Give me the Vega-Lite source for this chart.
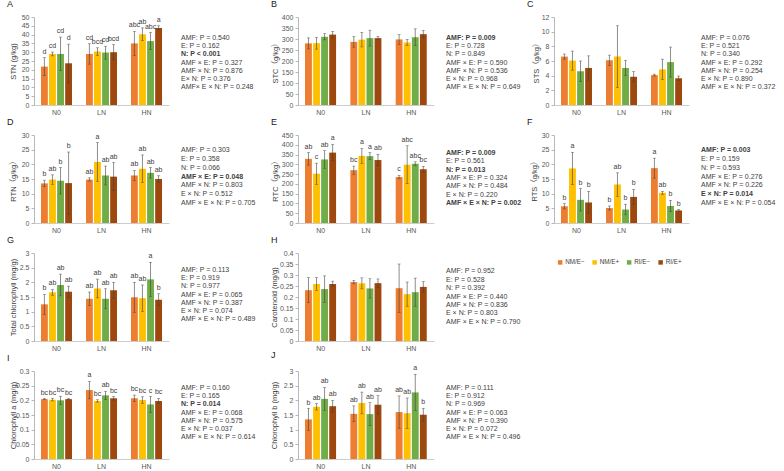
{
  "$schema": "https://vega.github.io/schema/vega-lite/v6.json",
  "padding": {"left": 7, "top": 0, "right": 0, "bottom": 0},
  "columns": 6,
  "align": "each",
  "bounds": "flush",
  "spacing": {"column": 12, "row": 30},
  "datasets": {
    "bars": [
      {"panel": "A", "N": "N0", "treatment": "NM/E−", "mean": 21.8, "lo": 16.8, "hi": 26.9, "sig": "d"},
      {"panel": "A", "N": "N0", "treatment": "NM/E+", "mean": 29.0, "lo": 27.9, "hi": 30.1, "sig": "cd"},
      {"panel": "A", "N": "N0", "treatment": "RI/E−", "mean": 29.0, "lo": 19.5, "hi": 38.6, "sig": "cd"},
      {"panel": "A", "N": "N0", "treatment": "RI/E+", "mean": 23.7, "lo": 12.6, "hi": 34.6, "sig": "d"},
      {"panel": "A", "N": "LN", "treatment": "NM/E−", "mean": 29.0, "lo": 23.2, "hi": 34.8, "sig": "cd"},
      {"panel": "A", "N": "LN", "treatment": "NM/E+", "mean": 30.4, "lo": 28.2, "hi": 32.5, "sig": "bcd"},
      {"panel": "A", "N": "LN", "treatment": "RI/E−", "mean": 29.8, "lo": 26.1, "hi": 33.4, "sig": "cd"},
      {"panel": "A", "N": "LN", "treatment": "RI/E+", "mean": 30.0, "lo": 25.7, "hi": 34.3, "sig": "bcd"},
      {"panel": "A", "N": "HN", "treatment": "NM/E−", "mean": 35.0, "lo": 28.2, "hi": 41.8, "sig": "abc"},
      {"panel": "A", "N": "HN", "treatment": "NM/E+", "mean": 40.2, "lo": 36.6, "hi": 43.8, "sig": "ab"},
      {"panel": "A", "N": "HN", "treatment": "RI/E−", "mean": 36.3, "lo": 31.5, "hi": 41.1, "sig": "abc"},
      {"panel": "A", "N": "HN", "treatment": "RI/E+", "mean": 43.8, "lo": 42.6, "hi": 45.0, "sig": "a"},

      {"panel": "B", "N": "N0", "treatment": "NM/E−", "mean": 280, "lo": 255, "hi": 305, "sig": ""},
      {"panel": "B", "N": "N0", "treatment": "NM/E+", "mean": 281, "lo": 254, "hi": 308, "sig": ""},
      {"panel": "B", "N": "N0", "treatment": "RI/E−", "mean": 310, "lo": 296, "hi": 324, "sig": ""},
      {"panel": "B", "N": "N0", "treatment": "RI/E+", "mean": 320, "lo": 305, "hi": 335, "sig": ""},
      {"panel": "B", "N": "LN", "treatment": "NM/E−", "mean": 287, "lo": 263, "hi": 311, "sig": ""},
      {"panel": "B", "N": "LN", "treatment": "NM/E+", "mean": 297, "lo": 264, "hi": 330, "sig": ""},
      {"panel": "B", "N": "LN", "treatment": "RI/E−", "mean": 304, "lo": 268, "hi": 340, "sig": ""},
      {"panel": "B", "N": "LN", "treatment": "RI/E+", "mean": 304, "lo": 296, "hi": 312, "sig": ""},
      {"panel": "B", "N": "HN", "treatment": "NM/E−", "mean": 298, "lo": 276, "hi": 320, "sig": ""},
      {"panel": "B", "N": "HN", "treatment": "NM/E+", "mean": 284, "lo": 270, "hi": 298, "sig": ""},
      {"panel": "B", "N": "HN", "treatment": "RI/E−", "mean": 308, "lo": 270, "hi": 346, "sig": ""},
      {"panel": "B", "N": "HN", "treatment": "RI/E+", "mean": 322, "lo": 305, "hi": 339, "sig": ""},

      {"panel": "C", "N": "N0", "treatment": "NM/E−", "mean": 6.6, "lo": 6.25, "hi": 6.95, "sig": ""},
      {"panel": "C", "N": "N0", "treatment": "NM/E+", "mean": 6.05, "lo": 4.75, "hi": 7.35, "sig": ""},
      {"panel": "C", "N": "N0", "treatment": "RI/E−", "mean": 4.6, "lo": 3.2, "hi": 6.0, "sig": ""},
      {"panel": "C", "N": "N0", "treatment": "RI/E+", "mean": 5.05, "lo": 3.4, "hi": 6.7, "sig": ""},
      {"panel": "C", "N": "LN", "treatment": "NM/E−", "mean": 6.1, "lo": 5.4, "hi": 6.8, "sig": ""},
      {"panel": "C", "N": "LN", "treatment": "NM/E+", "mean": 6.6, "lo": 2.4, "hi": 10.8, "sig": ""},
      {"panel": "C", "N": "LN", "treatment": "RI/E−", "mean": 5.05, "lo": 4.0, "hi": 6.1, "sig": ""},
      {"panel": "C", "N": "LN", "treatment": "RI/E+", "mean": 3.85, "lo": 3.15, "hi": 4.55, "sig": ""},
      {"panel": "C", "N": "HN", "treatment": "NM/E−", "mean": 4.07, "lo": 3.95, "hi": 4.2, "sig": ""},
      {"panel": "C", "N": "HN", "treatment": "NM/E+", "mean": 4.85, "lo": 3.45, "hi": 6.25, "sig": ""},
      {"panel": "C", "N": "HN", "treatment": "RI/E−", "mean": 5.85, "lo": 3.8, "hi": 7.9, "sig": ""},
      {"panel": "C", "N": "HN", "treatment": "RI/E+", "mean": 3.65, "lo": 3.35, "hi": 3.95, "sig": ""},

      {"panel": "D", "N": "N0", "treatment": "NM/E−", "mean": 13.5, "lo": 12.4, "hi": 14.6, "sig": "b"},
      {"panel": "D", "N": "N0", "treatment": "NM/E+", "mean": 14.8, "lo": 13.2, "hi": 16.4, "sig": "ab"},
      {"panel": "D", "N": "N0", "treatment": "RI/E−", "mean": 14.4, "lo": 9.9, "hi": 18.9, "sig": "b"},
      {"panel": "D", "N": "N0", "treatment": "RI/E+", "mean": 13.6, "lo": 3.0, "hi": 24.2, "sig": "b"},
      {"panel": "D", "N": "LN", "treatment": "NM/E−", "mean": 14.8, "lo": 14.3, "hi": 15.4, "sig": "ab"},
      {"panel": "D", "N": "LN", "treatment": "NM/E+", "mean": 20.8, "lo": 14.2, "hi": 27.4, "sig": "a"},
      {"panel": "D", "N": "LN", "treatment": "RI/E−", "mean": 16.2, "lo": 13.0, "hi": 19.4, "sig": "ab"},
      {"panel": "D", "N": "LN", "treatment": "RI/E+", "mean": 15.8, "lo": 11.0, "hi": 20.6, "sig": "ab"},
      {"panel": "D", "N": "HN", "treatment": "NM/E−", "mean": 16.2, "lo": 14.5, "hi": 17.9, "sig": "ab"},
      {"panel": "D", "N": "HN", "treatment": "NM/E+", "mean": 18.5, "lo": 13.8, "hi": 23.2, "sig": "ab"},
      {"panel": "D", "N": "HN", "treatment": "RI/E−", "mean": 17.1, "lo": 15.3, "hi": 18.9, "sig": "ab"},
      {"panel": "D", "N": "HN", "treatment": "RI/E+", "mean": 15.0, "lo": 13.9, "hi": 16.1, "sig": "ab"},

      {"panel": "E", "N": "N0", "treatment": "NM/E−", "mean": 328, "lo": 296, "hi": 360, "sig": "ab"},
      {"panel": "E", "N": "N0", "treatment": "NM/E+", "mean": 252, "lo": 198, "hi": 306, "sig": "c"},
      {"panel": "E", "N": "N0", "treatment": "RI/E−", "mean": 325, "lo": 280, "hi": 370, "sig": "ab"},
      {"panel": "E", "N": "N0", "treatment": "RI/E+", "mean": 360, "lo": 318, "hi": 402, "sig": "a"},
      {"panel": "E", "N": "LN", "treatment": "NM/E−", "mean": 270, "lo": 249, "hi": 291, "sig": "bc"},
      {"panel": "E", "N": "LN", "treatment": "NM/E+", "mean": 343, "lo": 305, "hi": 381, "sig": "a"},
      {"panel": "E", "N": "LN", "treatment": "RI/E−", "mean": 342, "lo": 324, "hi": 360, "sig": "a"},
      {"panel": "E", "N": "LN", "treatment": "RI/E+", "mean": 322, "lo": 293, "hi": 351, "sig": "ab"},
      {"panel": "E", "N": "HN", "treatment": "NM/E−", "mean": 235, "lo": 226, "hi": 244, "sig": "c"},
      {"panel": "E", "N": "HN", "treatment": "NM/E+", "mean": 298, "lo": 201, "hi": 395, "sig": "abc"},
      {"panel": "E", "N": "HN", "treatment": "RI/E−", "mean": 303, "lo": 293, "hi": 313, "sig": "abc"},
      {"panel": "E", "N": "HN", "treatment": "RI/E+", "mean": 275, "lo": 260, "hi": 290, "sig": "bc"},

      {"panel": "F", "N": "N0", "treatment": "NM/E−", "mean": 5.7, "lo": 4.8, "hi": 6.6, "sig": "b"},
      {"panel": "F", "N": "N0", "treatment": "NM/E+", "mean": 18.6, "lo": 13.1, "hi": 24.1, "sig": "a"},
      {"panel": "F", "N": "N0", "treatment": "RI/E−", "mean": 7.9, "lo": 4.1, "hi": 11.7, "sig": "b"},
      {"panel": "F", "N": "N0", "treatment": "RI/E+", "mean": 7.0, "lo": 3.2, "hi": 10.8, "sig": "b"},
      {"panel": "F", "N": "LN", "treatment": "NM/E−", "mean": 5.1, "lo": 4.4, "hi": 5.8, "sig": "b"},
      {"panel": "F", "N": "LN", "treatment": "NM/E+", "mean": 13.1, "lo": 9.1, "hi": 17.1, "sig": "ab"},
      {"panel": "F", "N": "LN", "treatment": "RI/E−", "mean": 4.6, "lo": 2.8, "hi": 6.4, "sig": "b"},
      {"panel": "F", "N": "LN", "treatment": "RI/E+", "mean": 8.9, "lo": 6.3, "hi": 11.5, "sig": "b"},
      {"panel": "F", "N": "HN", "treatment": "NM/E−", "mean": 18.7, "lo": 15.3, "hi": 22.1, "sig": "a"},
      {"panel": "F", "N": "HN", "treatment": "NM/E+", "mean": 10.3, "lo": 9.8, "hi": 10.8, "sig": "ab"},
      {"panel": "F", "N": "HN", "treatment": "RI/E−", "mean": 5.8, "lo": 3.9, "hi": 7.7, "sig": "b"},
      {"panel": "F", "N": "HN", "treatment": "RI/E+", "mean": 4.3, "lo": 4.0, "hi": 4.6, "sig": "b"},

      {"panel": "G", "N": "N0", "treatment": "NM/E−", "mean": 1.25, "lo": 0.91, "hi": 1.59, "sig": "b"},
      {"panel": "G", "N": "N0", "treatment": "NM/E+", "mean": 1.66, "lo": 1.56, "hi": 1.76, "sig": "ab"},
      {"panel": "G", "N": "N0", "treatment": "RI/E−", "mean": 1.91, "lo": 1.54, "hi": 2.28, "sig": "ab"},
      {"panel": "G", "N": "N0", "treatment": "RI/E+", "mean": 1.68, "lo": 1.48, "hi": 1.87, "sig": "ab"},
      {"panel": "G", "N": "LN", "treatment": "NM/E−", "mean": 1.44, "lo": 1.21, "hi": 1.67, "sig": "ab"},
      {"panel": "G", "N": "LN", "treatment": "NM/E+", "mean": 1.79, "lo": 1.47, "hi": 2.11, "sig": "ab"},
      {"panel": "G", "N": "LN", "treatment": "RI/E−", "mean": 1.44, "lo": 1.1, "hi": 1.78, "sig": "ab"},
      {"panel": "G", "N": "LN", "treatment": "RI/E+", "mean": 1.73, "lo": 1.46, "hi": 2.0, "sig": "ab"},
      {"panel": "G", "N": "HN", "treatment": "NM/E−", "mean": 1.49, "lo": 0.98, "hi": 2.0, "sig": "ab"},
      {"panel": "G", "N": "HN", "treatment": "NM/E+", "mean": 1.46, "lo": 1.01, "hi": 1.91, "sig": "ab"},
      {"panel": "G", "N": "HN", "treatment": "RI/E−", "mean": 2.1, "lo": 1.52, "hi": 2.68, "sig": "a"},
      {"panel": "G", "N": "HN", "treatment": "RI/E+", "mean": 1.41, "lo": 1.21, "hi": 1.61, "sig": "b"},

      {"panel": "H", "N": "N0", "treatment": "NM/E−", "mean": 0.231, "lo": 0.174, "hi": 0.288, "sig": ""},
      {"panel": "H", "N": "N0", "treatment": "NM/E+", "mean": 0.259, "lo": 0.23, "hi": 0.288, "sig": ""},
      {"panel": "H", "N": "N0", "treatment": "RI/E−", "mean": 0.236, "lo": 0.176, "hi": 0.296, "sig": ""},
      {"panel": "H", "N": "N0", "treatment": "RI/E+", "mean": 0.259, "lo": 0.246, "hi": 0.272, "sig": ""},
      {"panel": "H", "N": "LN", "treatment": "NM/E−", "mean": 0.268, "lo": 0.26, "hi": 0.276, "sig": ""},
      {"panel": "H", "N": "LN", "treatment": "NM/E+", "mean": 0.262, "lo": 0.237, "hi": 0.287, "sig": ""},
      {"panel": "H", "N": "LN", "treatment": "RI/E−", "mean": 0.239, "lo": 0.195, "hi": 0.283, "sig": ""},
      {"panel": "H", "N": "LN", "treatment": "RI/E+", "mean": 0.263, "lo": 0.244, "hi": 0.282, "sig": ""},
      {"panel": "H", "N": "HN", "treatment": "NM/E−", "mean": 0.24, "lo": 0.13, "hi": 0.35, "sig": ""},
      {"panel": "H", "N": "HN", "treatment": "NM/E+", "mean": 0.213, "lo": 0.158, "hi": 0.268, "sig": ""},
      {"panel": "H", "N": "HN", "treatment": "RI/E−", "mean": 0.222, "lo": 0.158, "hi": 0.286, "sig": ""},
      {"panel": "H", "N": "HN", "treatment": "RI/E+", "mean": 0.246, "lo": 0.222, "hi": 0.27, "sig": ""},

      {"panel": "I", "N": "N0", "treatment": "NM/E−", "mean": 0.204, "lo": 0.202, "hi": 0.206, "sig": "bc"},
      {"panel": "I", "N": "N0", "treatment": "NM/E+", "mean": 0.202, "lo": 0.198, "hi": 0.206, "sig": "bc"},
      {"panel": "I", "N": "N0", "treatment": "RI/E−", "mean": 0.2, "lo": 0.186, "hi": 0.214, "sig": "bc"},
      {"panel": "I", "N": "N0", "treatment": "RI/E+", "mean": 0.204, "lo": 0.202, "hi": 0.206, "sig": "bc"},
      {"panel": "I", "N": "LN", "treatment": "NM/E−", "mean": 0.235, "lo": 0.205, "hi": 0.265, "sig": "a"},
      {"panel": "I", "N": "LN", "treatment": "NM/E+", "mean": 0.198, "lo": 0.194, "hi": 0.202, "sig": "bc"},
      {"panel": "I", "N": "LN", "treatment": "RI/E−", "mean": 0.217, "lo": 0.203, "hi": 0.231, "sig": "ab"},
      {"panel": "I", "N": "LN", "treatment": "RI/E+", "mean": 0.207, "lo": 0.201, "hi": 0.213, "sig": "bc"},
      {"panel": "I", "N": "HN", "treatment": "NM/E−", "mean": 0.207, "lo": 0.196, "hi": 0.218, "sig": "bc"},
      {"panel": "I", "N": "HN", "treatment": "NM/E+", "mean": 0.201, "lo": 0.19, "hi": 0.212, "sig": "bc"},
      {"panel": "I", "N": "HN", "treatment": "RI/E−", "mean": 0.186, "lo": 0.159, "hi": 0.213, "sig": "c"},
      {"panel": "I", "N": "HN", "treatment": "RI/E+", "mean": 0.198, "lo": 0.189, "hi": 0.207, "sig": "bc"},

      {"panel": "J", "N": "N0", "treatment": "NM/E−", "mean": 1.35, "lo": 0.98, "hi": 1.72, "sig": "b"},
      {"panel": "J", "N": "N0", "treatment": "NM/E+", "mean": 1.78, "lo": 1.67, "hi": 1.89, "sig": "ab"},
      {"panel": "J", "N": "N0", "treatment": "RI/E−", "mean": 2.05, "lo": 1.66, "hi": 2.44, "sig": "ab"},
      {"panel": "J", "N": "N0", "treatment": "RI/E+", "mean": 1.8, "lo": 1.6, "hi": 2.0, "sig": "ab"},
      {"panel": "J", "N": "LN", "treatment": "NM/E−", "mean": 1.54, "lo": 1.27, "hi": 1.81, "sig": "ab"},
      {"panel": "J", "N": "LN", "treatment": "NM/E+", "mean": 1.91, "lo": 1.54, "hi": 2.28, "sig": "ab"},
      {"panel": "J", "N": "LN", "treatment": "RI/E−", "mean": 1.53, "lo": 1.14, "hi": 1.92, "sig": "ab"},
      {"panel": "J", "N": "LN", "treatment": "RI/E+", "mean": 1.85, "lo": 1.54, "hi": 2.16, "sig": "ab"},
      {"panel": "J", "N": "HN", "treatment": "NM/E−", "mean": 1.6, "lo": 1.05, "hi": 2.15, "sig": "ab"},
      {"panel": "J", "N": "HN", "treatment": "NM/E+", "mean": 1.56, "lo": 1.04, "hi": 2.08, "sig": "ab"},
      {"panel": "J", "N": "HN", "treatment": "RI/E−", "mean": 2.27, "lo": 1.65, "hi": 2.89, "sig": "a"},
      {"panel": "J", "N": "HN", "treatment": "RI/E+", "mean": 1.51, "lo": 1.29, "hi": 1.73, "sig": "b"}
    ],
    "stats": [
      {"panel": "A", "line": 1, "label": "AMF: P = 0.540", "bold": false},
      {"panel": "A", "line": 2, "label": "E: P = 0.162", "bold": false},
      {"panel": "A", "line": 3, "label": "N: P < 0.001", "bold": true},
      {"panel": "A", "line": 4, "label": "AMF × E: P = 0.327", "bold": false},
      {"panel": "A", "line": 5, "label": "AMF ×  N: P = 0.876", "bold": false},
      {"panel": "A", "line": 6, "label": "E× N: P = 0.376", "bold": false},
      {"panel": "A", "line": 7, "label": "AMF× E × N: P = 0.248", "bold": false},
      {"panel": "B", "line": 1, "label": "AMF: P = 0.009", "bold": true},
      {"panel": "B", "line": 2, "label": "E: P = 0.728", "bold": false},
      {"panel": "B", "line": 3, "label": "N: P = 0.849", "bold": false},
      {"panel": "B", "line": 4, "label": "AMF × E: P = 0.590", "bold": false},
      {"panel": "B", "line": 5, "label": "AMF × N: P = 0.536", "bold": false},
      {"panel": "B", "line": 6, "label": "E × N: P = 0.968", "bold": false},
      {"panel": "B", "line": 7, "label": "AMF × E × N: P = 0.649", "bold": false},
      {"panel": "C", "line": 1, "label": "AMF: P = 0.076", "bold": false},
      {"panel": "C", "line": 2, "label": "E: P = 0.521", "bold": false},
      {"panel": "C", "line": 3, "label": "N: P = 0.340", "bold": false},
      {"panel": "C", "line": 4, "label": "AMF × E: P = 0.292", "bold": false},
      {"panel": "C", "line": 5, "label": "AMF × N: P = 0.254", "bold": false},
      {"panel": "C", "line": 6, "label": "E × N: P = 0.890", "bold": false},
      {"panel": "C", "line": 7, "label": "AMF × E × N: P = 0.372", "bold": false},
      {"panel": "D", "line": 1, "label": "AMF: P = 0.303", "bold": false},
      {"panel": "D", "line": 2, "label": "E: P = 0.358", "bold": false},
      {"panel": "D", "line": 3, "label": "N: P = 0.066", "bold": false},
      {"panel": "D", "line": 4, "label": "AMF × E: P = 0.048", "bold": true},
      {"panel": "D", "line": 5, "label": "AMF × N: P = 0.803", "bold": false},
      {"panel": "D", "line": 6, "label": "E × N: P = 0.512", "bold": false},
      {"panel": "D", "line": 7, "label": "AMF × E × N: P = 0.705", "bold": false},
      {"panel": "E", "line": 1, "label": "AMF: P = 0.009", "bold": true},
      {"panel": "E", "line": 2, "label": "E: P = 0.561", "bold": false},
      {"panel": "E", "line": 3, "label": "N: P = 0.013", "bold": true},
      {"panel": "E", "line": 4, "label": "AMF × E: P = 0.324", "bold": false},
      {"panel": "E", "line": 5, "label": "AMF × N: P = 0.484", "bold": false},
      {"panel": "E", "line": 6, "label": "E × N: P = 0.220", "bold": false},
      {"panel": "E", "line": 7, "label": "AMF × E × N: P = 0.002", "bold": true},
      {"panel": "F", "line": 1, "label": "AMF: P = 0.003", "bold": true},
      {"panel": "F", "line": 2, "label": "E: P = 0.159", "bold": false},
      {"panel": "F", "line": 3, "label": "N: P = 0.593", "bold": false},
      {"panel": "F", "line": 4, "label": "AMF × E: P = 0.276", "bold": false},
      {"panel": "F", "line": 5, "label": "AMF × N: P = 0.226", "bold": false},
      {"panel": "F", "line": 6, "label": "E × N: P = 0.014", "bold": true},
      {"panel": "F", "line": 7, "label": "AMF × E × N: P = 0.054", "bold": false},
      {"panel": "G", "line": 1, "label": "AMF: P = 0.113", "bold": false},
      {"panel": "G", "line": 2, "label": "E: P = 0.919", "bold": false},
      {"panel": "G", "line": 3, "label": "N: P = 0.977", "bold": false},
      {"panel": "G", "line": 4, "label": "AMF × E: P = 0.065", "bold": false},
      {"panel": "G", "line": 5, "label": "AMF × N: P = 0.387", "bold": false},
      {"panel": "G", "line": 6, "label": "E × N: P = 0.074", "bold": false},
      {"panel": "G", "line": 7, "label": "AMF × E × N: P = 0.489", "bold": false},
      {"panel": "H", "line": 1, "label": "AMF: P = 0.952", "bold": false},
      {"panel": "H", "line": 2, "label": "E: P = 0.528", "bold": false},
      {"panel": "H", "line": 3, "label": "N: P = 0.392", "bold": false},
      {"panel": "H", "line": 4, "label": "AMF × E: P = 0.440", "bold": false},
      {"panel": "H", "line": 5, "label": "AMF × N: P = 0.836", "bold": false},
      {"panel": "H", "line": 6, "label": "E × N: P = 0.803", "bold": false},
      {"panel": "H", "line": 7, "label": "AMF × E × N: P = 0.790", "bold": false},
      {"panel": "I", "line": 1, "label": "AMF: P = 0.160", "bold": false},
      {"panel": "I", "line": 2, "label": "E: P = 0.165", "bold": false},
      {"panel": "I", "line": 3, "label": "N: P = 0.014", "bold": true},
      {"panel": "I", "line": 4, "label": "AMF × E: P = 0.068", "bold": false},
      {"panel": "I", "line": 5, "label": "AMF × N: P = 0.575", "bold": false},
      {"panel": "I", "line": 6, "label": "E × N: P = 0.037", "bold": false},
      {"panel": "I", "line": 7, "label": "AMF × E × N: P = 0.614", "bold": false},
      {"panel": "J", "line": 1, "label": "AMF: P = 0.111", "bold": false},
      {"panel": "J", "line": 2, "label": "E: P = 0.912", "bold": false},
      {"panel": "J", "line": 3, "label": "N: P = 0.969", "bold": false},
      {"panel": "J", "line": 4, "label": "AMF × E: P = 0.063", "bold": false},
      {"panel": "J", "line": 5, "label": "AMF × N: P = 0.390", "bold": false},
      {"panel": "J", "line": 6, "label": "E × N: P = 0.072", "bold": false},
      {"panel": "J", "line": 7, "label": "AMF × E × N: P = 0.496", "bold": false}
    ]
  },
  "concat": [
    {
      "title": "A", "width": 135, "height": 88,
      "data": {"name": "bars"}, "transform": [{"filter": "datum.panel === 'A'"}],
      "encoding": {
        "x": {"field": "N", "type": "nominal", "sort": ["N0", "LN", "HN"], "title": null, "scale": {"paddingInner": 0.31, "paddingOuter": 0.155}},
        "xOffset": {"field": "treatment", "type": "nominal", "sort": ["NM/E−", "NM/E+", "RI/E−", "RI/E+"], "scale": {"paddingInner": 0.15}}
      },
      "layer": [
        {"mark": "bar", "encoding": {
          "y": {"field": "mean", "type": "quantitative", "title": "STN (g/kg)", "scale": {"domain": [0, 50]}, "axis": {"values": [0, 5, 10, 15, 20, 25, 30, 35, 40, 45, 50], "titleX": -21}},
          "color": {"field": "treatment", "type": "nominal", "scale": {"domain": ["NM/E−", "NM/E+", "RI/E−", "RI/E+"], "range": ["#ED7D31", "#FFC000", "#70AD47", "#9E480E"]}, "legend": {"title": null}}}},
        {"mark": "rule", "encoding": {"y": {"field": "lo", "type": "quantitative", "title": "STN (g/kg)", "axis": {"values": [0, 5, 10, 15, 20, 25, 30, 35, 40, 45, 50], "titleX": -21}}, "y2": {"field": "hi"}}},
        {"mark": {"type": "tick", "orient": "horizontal", "size": 3}, "encoding": {"y": {"field": "lo", "type": "quantitative", "title": "STN (g/kg)", "axis": {"values": [0, 5, 10, 15, 20, 25, 30, 35, 40, 45, 50], "titleX": -21}}}},
        {"mark": {"type": "tick", "orient": "horizontal", "size": 3}, "encoding": {"y": {"field": "hi", "type": "quantitative", "title": "STN (g/kg)", "axis": {"values": [0, 5, 10, 15, 20, 25, 30, 35, 40, 45, 50], "titleX": -21}}}},
        {"mark": {"type": "text", "style": "sigLabel"}, "encoding": {"y": {"field": "hi", "type": "quantitative", "title": "STN (g/kg)", "axis": {"values": [0, 5, 10, 15, 20, 25, 30, 35, 40, 45, 50], "titleX": -21}}, "text": {"field": "sig"}}}
      ]
    },
    {
      "width": 105, "height": 88,
      "data": {"name": "stats"}, "transform": [{"filter": "datum.panel === 'A'"}],
      "encoding": {
        "x": {"datum": 0, "type": "quantitative", "scale": {"domain": [0, 1]}, "axis": null},
        "y": {"field": "line", "type": "ordinal", "scale": {"type": "point", "range": [17, 74]}, "axis": null},
        "text": {"field": "label"}
      },
      "layer": [
        {"transform": [{"filter": "!datum.bold"}], "mark": {"type": "text", "align": "left", "style": "stat"}},
        {"transform": [{"filter": "datum.bold"}], "mark": {"type": "text", "align": "left", "style": "stat", "fontWeight": "bold"}}
      ]
    },
    {
      "title": "B", "width": 136, "height": 88,
      "data": {"name": "bars"}, "transform": [{"filter": "datum.panel === 'B'"}],
      "encoding": {
        "x": {"field": "N", "type": "nominal", "sort": ["N0", "LN", "HN"], "title": null, "scale": {"paddingInner": 0.31, "paddingOuter": 0.155}},
        "xOffset": {"field": "treatment", "type": "nominal", "sort": ["NM/E−", "NM/E+", "RI/E−", "RI/E+"], "scale": {"paddingInner": 0.15}}
      },
      "layer": [
        {"mark": "bar", "encoding": {
          "y": {"field": "mean", "type": "quantitative", "title": "STC（g/kg）", "scale": {"domain": [0, 400]}, "axis": {"values": [0, 50, 100, 150, 200, 250, 300, 350, 400], "titleX": -23}},
          "color": {"field": "treatment", "type": "nominal", "scale": {"domain": ["NM/E−", "NM/E+", "RI/E−", "RI/E+"], "range": ["#ED7D31", "#FFC000", "#70AD47", "#9E480E"]}, "legend": {"title": null}}}},
        {"mark": "rule", "encoding": {"y": {"field": "lo", "type": "quantitative", "title": "STC（g/kg）", "axis": {"values": [0, 50, 100, 150, 200, 250, 300, 350, 400], "titleX": -23}}, "y2": {"field": "hi"}}},
        {"mark": {"type": "tick", "orient": "horizontal", "size": 3}, "encoding": {"y": {"field": "lo", "type": "quantitative", "title": "STC（g/kg）", "axis": {"values": [0, 50, 100, 150, 200, 250, 300, 350, 400], "titleX": -23}}}},
        {"mark": {"type": "tick", "orient": "horizontal", "size": 3}, "encoding": {"y": {"field": "hi", "type": "quantitative", "title": "STC（g/kg）", "axis": {"values": [0, 50, 100, 150, 200, 250, 300, 350, 400], "titleX": -23}}}}
      ]
    },
    {
      "width": 96, "height": 88,
      "data": {"name": "stats"}, "transform": [{"filter": "datum.panel === 'B'"}],
      "encoding": {
        "x": {"datum": 0, "type": "quantitative", "scale": {"domain": [0, 1]}, "axis": null},
        "y": {"field": "line", "type": "ordinal", "scale": {"type": "point", "range": [17, 74]}, "axis": null},
        "text": {"field": "label"}
      },
      "layer": [
        {"transform": [{"filter": "!datum.bold"}], "mark": {"type": "text", "align": "left", "style": "stat"}},
        {"transform": [{"filter": "datum.bold"}], "mark": {"type": "text", "align": "left", "style": "stat", "fontWeight": "bold"}}
      ]
    },
    {
      "title": "C", "width": 135, "height": 88,
      "data": {"name": "bars"}, "transform": [{"filter": "datum.panel === 'C'"}],
      "encoding": {
        "x": {"field": "N", "type": "nominal", "sort": ["N0", "LN", "HN"], "title": null, "scale": {"paddingInner": 0.31, "paddingOuter": 0.155}},
        "xOffset": {"field": "treatment", "type": "nominal", "sort": ["NM/E−", "NM/E+", "RI/E−", "RI/E+"], "scale": {"paddingInner": 0.15}}
      },
      "layer": [
        {"mark": "bar", "encoding": {
          "y": {"field": "mean", "type": "quantitative", "title": "STS（g/kg）", "scale": {"domain": [0, 12]}, "axis": {"values": [0, 2, 4, 6, 8, 10, 12], "titleX": -18}},
          "color": {"field": "treatment", "type": "nominal", "scale": {"domain": ["NM/E−", "NM/E+", "RI/E−", "RI/E+"], "range": ["#ED7D31", "#FFC000", "#70AD47", "#9E480E"]}, "legend": {"title": null}}}},
        {"mark": "rule", "encoding": {"y": {"field": "lo", "type": "quantitative", "title": "STS（g/kg）", "axis": {"values": [0, 2, 4, 6, 8, 10, 12], "titleX": -18}}, "y2": {"field": "hi"}}},
        {"mark": {"type": "tick", "orient": "horizontal", "size": 3}, "encoding": {"y": {"field": "lo", "type": "quantitative", "title": "STS（g/kg）", "axis": {"values": [0, 2, 4, 6, 8, 10, 12], "titleX": -18}}}},
        {"mark": {"type": "tick", "orient": "horizontal", "size": 3}, "encoding": {"y": {"field": "hi", "type": "quantitative", "title": "STS（g/kg）", "axis": {"values": [0, 2, 4, 6, 8, 10, 12], "titleX": -18}}}}
      ]
    },
    {
      "width": 85, "height": 88,
      "data": {"name": "stats"}, "transform": [{"filter": "datum.panel === 'C'"}],
      "encoding": {
        "x": {"datum": 0, "type": "quantitative", "scale": {"domain": [0, 1]}, "axis": null},
        "y": {"field": "line", "type": "ordinal", "scale": {"type": "point", "range": [17, 74]}, "axis": null},
        "text": {"field": "label"}
      },
      "layer": [
        {"transform": [{"filter": "!datum.bold"}], "mark": {"type": "text", "align": "left", "style": "stat"}},
        {"transform": [{"filter": "datum.bold"}], "mark": {"type": "text", "align": "left", "style": "stat", "fontWeight": "bold"}}
      ]
    },
    {
      "title": "D", "width": 135, "height": 88,
      "data": {"name": "bars"}, "transform": [{"filter": "datum.panel === 'D'"}],
      "encoding": {
        "x": {"field": "N", "type": "nominal", "sort": ["N0", "LN", "HN"], "title": null, "scale": {"paddingInner": 0.31, "paddingOuter": 0.155}},
        "xOffset": {"field": "treatment", "type": "nominal", "sort": ["NM/E−", "NM/E+", "RI/E−", "RI/E+"], "scale": {"paddingInner": 0.15}}
      },
      "layer": [
        {"mark": "bar", "encoding": {
          "y": {"field": "mean", "type": "quantitative", "title": "RTN（g/kg）", "scale": {"domain": [0, 30]}, "axis": {"values": [0, 5, 10, 15, 20, 25, 30], "titleX": -21}},
          "color": {"field": "treatment", "type": "nominal", "scale": {"domain": ["NM/E−", "NM/E+", "RI/E−", "RI/E+"], "range": ["#ED7D31", "#FFC000", "#70AD47", "#9E480E"]}, "legend": {"title": null}}}},
        {"mark": "rule", "encoding": {"y": {"field": "lo", "type": "quantitative", "title": "RTN（g/kg）", "axis": {"values": [0, 5, 10, 15, 20, 25, 30], "titleX": -21}}, "y2": {"field": "hi"}}},
        {"mark": {"type": "tick", "orient": "horizontal", "size": 3}, "encoding": {"y": {"field": "lo", "type": "quantitative", "title": "RTN（g/kg）", "axis": {"values": [0, 5, 10, 15, 20, 25, 30], "titleX": -21}}}},
        {"mark": {"type": "tick", "orient": "horizontal", "size": 3}, "encoding": {"y": {"field": "hi", "type": "quantitative", "title": "RTN（g/kg）", "axis": {"values": [0, 5, 10, 15, 20, 25, 30], "titleX": -21}}}},
        {"mark": {"type": "text", "style": "sigLabel"}, "encoding": {"y": {"field": "hi", "type": "quantitative", "title": "RTN（g/kg）", "axis": {"values": [0, 5, 10, 15, 20, 25, 30], "titleX": -21}}, "text": {"field": "sig"}}}
      ]
    },
    {
      "width": 105, "height": 88,
      "data": {"name": "stats"}, "transform": [{"filter": "datum.panel === 'D'"}],
      "encoding": {
        "x": {"datum": 0, "type": "quantitative", "scale": {"domain": [0, 1]}, "axis": null},
        "y": {"field": "line", "type": "ordinal", "scale": {"type": "point", "range": [11, 72]}, "axis": null},
        "text": {"field": "label"}
      },
      "layer": [
        {"transform": [{"filter": "!datum.bold"}], "mark": {"type": "text", "align": "left", "style": "stat"}},
        {"transform": [{"filter": "datum.bold"}], "mark": {"type": "text", "align": "left", "style": "stat", "fontWeight": "bold"}}
      ]
    },
    {
      "title": "E", "width": 136, "height": 88,
      "data": {"name": "bars"}, "transform": [{"filter": "datum.panel === 'E'"}],
      "encoding": {
        "x": {"field": "N", "type": "nominal", "sort": ["N0", "LN", "HN"], "title": null, "scale": {"paddingInner": 0.31, "paddingOuter": 0.155}},
        "xOffset": {"field": "treatment", "type": "nominal", "sort": ["NM/E−", "NM/E+", "RI/E−", "RI/E+"], "scale": {"paddingInner": 0.15}}
      },
      "layer": [
        {"mark": "bar", "encoding": {
          "y": {"field": "mean", "type": "quantitative", "title": "RTC（g/kg）", "scale": {"domain": [0, 450]}, "axis": {"values": [0, 50, 100, 150, 200, 250, 300, 350, 400, 450], "titleX": -23}},
          "color": {"field": "treatment", "type": "nominal", "scale": {"domain": ["NM/E−", "NM/E+", "RI/E−", "RI/E+"], "range": ["#ED7D31", "#FFC000", "#70AD47", "#9E480E"]}, "legend": {"title": null}}}},
        {"mark": "rule", "encoding": {"y": {"field": "lo", "type": "quantitative", "title": "RTC（g/kg）", "axis": {"values": [0, 50, 100, 150, 200, 250, 300, 350, 400, 450], "titleX": -23}}, "y2": {"field": "hi"}}},
        {"mark": {"type": "tick", "orient": "horizontal", "size": 3}, "encoding": {"y": {"field": "lo", "type": "quantitative", "title": "RTC（g/kg）", "axis": {"values": [0, 50, 100, 150, 200, 250, 300, 350, 400, 450], "titleX": -23}}}},
        {"mark": {"type": "tick", "orient": "horizontal", "size": 3}, "encoding": {"y": {"field": "hi", "type": "quantitative", "title": "RTC（g/kg）", "axis": {"values": [0, 50, 100, 150, 200, 250, 300, 350, 400, 450], "titleX": -23}}}},
        {"mark": {"type": "text", "style": "sigLabel"}, "encoding": {"y": {"field": "hi", "type": "quantitative", "title": "RTC（g/kg）", "axis": {"values": [0, 50, 100, 150, 200, 250, 300, 350, 400, 450], "titleX": -23}}, "text": {"field": "sig"}}}
      ]
    },
    {
      "width": 96, "height": 88,
      "data": {"name": "stats"}, "transform": [{"filter": "datum.panel === 'E'"}],
      "encoding": {
        "x": {"datum": 0, "type": "quantitative", "scale": {"domain": [0, 1]}, "axis": null},
        "y": {"field": "line", "type": "ordinal", "scale": {"type": "point", "range": [14, 72]}, "axis": null},
        "text": {"field": "label"}
      },
      "layer": [
        {"transform": [{"filter": "!datum.bold"}], "mark": {"type": "text", "align": "left", "style": "stat"}},
        {"transform": [{"filter": "datum.bold"}], "mark": {"type": "text", "align": "left", "style": "stat", "fontWeight": "bold"}}
      ]
    },
    {
      "title": "F", "width": 135, "height": 88,
      "data": {"name": "bars"}, "transform": [{"filter": "datum.panel === 'F'"}],
      "encoding": {
        "x": {"field": "N", "type": "nominal", "sort": ["N0", "LN", "HN"], "title": null, "scale": {"paddingInner": 0.31, "paddingOuter": 0.155}},
        "xOffset": {"field": "treatment", "type": "nominal", "sort": ["NM/E−", "NM/E+", "RI/E−", "RI/E+"], "scale": {"paddingInner": 0.15}}
      },
      "layer": [
        {"mark": "bar", "encoding": {
          "y": {"field": "mean", "type": "quantitative", "title": "RTS（g/kg）", "scale": {"domain": [0, 30]}, "axis": {"values": [0, 5, 10, 15, 20, 25, 30], "titleX": -19.5}},
          "color": {"field": "treatment", "type": "nominal", "scale": {"domain": ["NM/E−", "NM/E+", "RI/E−", "RI/E+"], "range": ["#ED7D31", "#FFC000", "#70AD47", "#9E480E"]}, "legend": {"title": null}}}},
        {"mark": "rule", "encoding": {"y": {"field": "lo", "type": "quantitative", "title": "RTS（g/kg）", "axis": {"values": [0, 5, 10, 15, 20, 25, 30], "titleX": -19.5}}, "y2": {"field": "hi"}}},
        {"mark": {"type": "tick", "orient": "horizontal", "size": 3}, "encoding": {"y": {"field": "lo", "type": "quantitative", "title": "RTS（g/kg）", "axis": {"values": [0, 5, 10, 15, 20, 25, 30], "titleX": -19.5}}}},
        {"mark": {"type": "tick", "orient": "horizontal", "size": 3}, "encoding": {"y": {"field": "hi", "type": "quantitative", "title": "RTS（g/kg）", "axis": {"values": [0, 5, 10, 15, 20, 25, 30], "titleX": -19.5}}}},
        {"mark": {"type": "text", "style": "sigLabel"}, "encoding": {"y": {"field": "hi", "type": "quantitative", "title": "RTS（g/kg）", "axis": {"values": [0, 5, 10, 15, 20, 25, 30], "titleX": -19.5}}, "text": {"field": "sig"}}}
      ]
    },
    {
      "width": 85, "height": 88,
      "data": {"name": "stats"}, "transform": [{"filter": "datum.panel === 'F'"}],
      "encoding": {
        "x": {"datum": 0, "type": "quantitative", "scale": {"domain": [0, 1]}, "axis": null},
        "y": {"field": "line", "type": "ordinal", "scale": {"type": "point", "range": [11, 72]}, "axis": null},
        "text": {"field": "label"}
      },
      "layer": [
        {"transform": [{"filter": "!datum.bold"}], "mark": {"type": "text", "align": "left", "style": "stat"}},
        {"transform": [{"filter": "datum.bold"}], "mark": {"type": "text", "align": "left", "style": "stat", "fontWeight": "bold"}}
      ]
    },
    {
      "title": "G", "width": 135, "height": 88,
      "data": {"name": "bars"}, "transform": [{"filter": "datum.panel === 'G'"}],
      "encoding": {
        "x": {"field": "N", "type": "nominal", "sort": ["N0", "LN", "HN"], "title": null, "scale": {"paddingInner": 0.31, "paddingOuter": 0.155}},
        "xOffset": {"field": "treatment", "type": "nominal", "sort": ["NM/E−", "NM/E+", "RI/E−", "RI/E+"], "scale": {"paddingInner": 0.15}}
      },
      "layer": [
        {"mark": "bar", "encoding": {
          "y": {"field": "mean", "type": "quantitative", "title": "Total chlorophyll (mg/g)", "scale": {"domain": [0, 3]}, "axis": {"values": [0, 0.5, 1, 1.5, 2, 2.5, 3], "titleX": -20.5}},
          "color": {"field": "treatment", "type": "nominal", "scale": {"domain": ["NM/E−", "NM/E+", "RI/E−", "RI/E+"], "range": ["#ED7D31", "#FFC000", "#70AD47", "#9E480E"]}, "legend": {"title": null}}}},
        {"mark": "rule", "encoding": {"y": {"field": "lo", "type": "quantitative", "title": "Total chlorophyll (mg/g)", "axis": {"values": [0, 0.5, 1, 1.5, 2, 2.5, 3], "titleX": -20.5}}, "y2": {"field": "hi"}}},
        {"mark": {"type": "tick", "orient": "horizontal", "size": 3}, "encoding": {"y": {"field": "lo", "type": "quantitative", "title": "Total chlorophyll (mg/g)", "axis": {"values": [0, 0.5, 1, 1.5, 2, 2.5, 3], "titleX": -20.5}}}},
        {"mark": {"type": "tick", "orient": "horizontal", "size": 3}, "encoding": {"y": {"field": "hi", "type": "quantitative", "title": "Total chlorophyll (mg/g)", "axis": {"values": [0, 0.5, 1, 1.5, 2, 2.5, 3], "titleX": -20.5}}}},
        {"mark": {"type": "text", "style": "sigLabel"}, "encoding": {"y": {"field": "hi", "type": "quantitative", "title": "Total chlorophyll (mg/g)", "axis": {"values": [0, 0.5, 1, 1.5, 2, 2.5, 3], "titleX": -20.5}}, "text": {"field": "sig"}}}
      ]
    },
    {
      "width": 105, "height": 88,
      "data": {"name": "stats"}, "transform": [{"filter": "datum.panel === 'G'"}],
      "encoding": {
        "x": {"datum": 0, "type": "quantitative", "scale": {"domain": [0, 1]}, "axis": null},
        "y": {"field": "line", "type": "ordinal", "scale": {"type": "point", "range": [13, 70]}, "axis": null},
        "text": {"field": "label"}
      },
      "layer": [
        {"transform": [{"filter": "!datum.bold"}], "mark": {"type": "text", "align": "left", "style": "stat"}},
        {"transform": [{"filter": "datum.bold"}], "mark": {"type": "text", "align": "left", "style": "stat", "fontWeight": "bold"}}
      ]
    },
    {
      "title": "H", "width": 136, "height": 88,
      "data": {"name": "bars"}, "transform": [{"filter": "datum.panel === 'H'"}],
      "encoding": {
        "x": {"field": "N", "type": "nominal", "sort": ["N0", "LN", "HN"], "title": null, "scale": {"paddingInner": 0.31, "paddingOuter": 0.155}},
        "xOffset": {"field": "treatment", "type": "nominal", "sort": ["NM/E−", "NM/E+", "RI/E−", "RI/E+"], "scale": {"paddingInner": 0.15}}
      },
      "layer": [
        {"mark": "bar", "encoding": {
          "y": {"field": "mean", "type": "quantitative", "title": "Carotenoid (mg/g)", "scale": {"domain": [0, 0.4]}, "axis": {"values": [0, 0.05, 0.1, 0.15, 0.2, 0.25, 0.3, 0.35, 0.4], "titleX": -24}},
          "color": {"field": "treatment", "type": "nominal", "scale": {"domain": ["NM/E−", "NM/E+", "RI/E−", "RI/E+"], "range": ["#ED7D31", "#FFC000", "#70AD47", "#9E480E"]}, "legend": {"title": null}}}},
        {"mark": "rule", "encoding": {"y": {"field": "lo", "type": "quantitative", "title": "Carotenoid (mg/g)", "axis": {"values": [0, 0.05, 0.1, 0.15, 0.2, 0.25, 0.3, 0.35, 0.4], "titleX": -24}}, "y2": {"field": "hi"}}},
        {"mark": {"type": "tick", "orient": "horizontal", "size": 3}, "encoding": {"y": {"field": "lo", "type": "quantitative", "title": "Carotenoid (mg/g)", "axis": {"values": [0, 0.05, 0.1, 0.15, 0.2, 0.25, 0.3, 0.35, 0.4], "titleX": -24}}}},
        {"mark": {"type": "tick", "orient": "horizontal", "size": 3}, "encoding": {"y": {"field": "hi", "type": "quantitative", "title": "Carotenoid (mg/g)", "axis": {"values": [0, 0.05, 0.1, 0.15, 0.2, 0.25, 0.3, 0.35, 0.4], "titleX": -24}}}}
      ]
    },
    {
      "width": 96, "height": 88,
      "data": {"name": "stats"}, "transform": [{"filter": "datum.panel === 'H'"}],
      "encoding": {
        "x": {"datum": 0, "type": "quantitative", "scale": {"domain": [0, 1]}, "axis": null},
        "y": {"field": "line", "type": "ordinal", "scale": {"type": "point", "range": [14, 73]}, "axis": null},
        "text": {"field": "label"}
      },
      "layer": [
        {"transform": [{"filter": "!datum.bold"}], "mark": {"type": "text", "align": "left", "style": "stat"}},
        {"transform": [{"filter": "datum.bold"}], "mark": {"type": "text", "align": "left", "style": "stat", "fontWeight": "bold"}}
      ]
    },
    {"width": 135, "height": 88, "data": {"values": []}, "mark": "point", "encoding": {}},
    {"width": 85, "height": 88, "data": {"values": []}, "mark": "point", "encoding": {}},
    {
      "title": "I", "width": 135, "height": 88,
      "data": {"name": "bars"}, "transform": [{"filter": "datum.panel === 'I'"}],
      "encoding": {
        "x": {"field": "N", "type": "nominal", "sort": ["N0", "LN", "HN"], "title": null, "scale": {"paddingInner": 0.31, "paddingOuter": 0.155}},
        "xOffset": {"field": "treatment", "type": "nominal", "sort": ["NM/E−", "NM/E+", "RI/E−", "RI/E+"], "scale": {"paddingInner": 0.15}}
      },
      "layer": [
        {"mark": "bar", "encoding": {
          "y": {"field": "mean", "type": "quantitative", "title": "Chlorophyll a  (mg/g)", "scale": {"domain": [0, 0.3]}, "axis": {"values": [0, 0.05, 0.1, 0.15, 0.2, 0.25, 0.3], "titleX": -21}},
          "color": {"field": "treatment", "type": "nominal", "scale": {"domain": ["NM/E−", "NM/E+", "RI/E−", "RI/E+"], "range": ["#ED7D31", "#FFC000", "#70AD47", "#9E480E"]}, "legend": {"title": null}}}},
        {"mark": "rule", "encoding": {"y": {"field": "lo", "type": "quantitative", "title": "Chlorophyll a  (mg/g)", "axis": {"values": [0, 0.05, 0.1, 0.15, 0.2, 0.25, 0.3], "titleX": -21}}, "y2": {"field": "hi"}}},
        {"mark": {"type": "tick", "orient": "horizontal", "size": 3}, "encoding": {"y": {"field": "lo", "type": "quantitative", "title": "Chlorophyll a  (mg/g)", "axis": {"values": [0, 0.05, 0.1, 0.15, 0.2, 0.25, 0.3], "titleX": -21}}}},
        {"mark": {"type": "tick", "orient": "horizontal", "size": 3}, "encoding": {"y": {"field": "hi", "type": "quantitative", "title": "Chlorophyll a  (mg/g)", "axis": {"values": [0, 0.05, 0.1, 0.15, 0.2, 0.25, 0.3], "titleX": -21}}}},
        {"mark": {"type": "text", "style": "sigLabel"}, "encoding": {"y": {"field": "hi", "type": "quantitative", "title": "Chlorophyll a  (mg/g)", "axis": {"values": [0, 0.05, 0.1, 0.15, 0.2, 0.25, 0.3], "titleX": -21}}, "text": {"field": "sig"}}}
      ]
    },
    {
      "width": 105, "height": 88,
      "data": {"name": "stats"}, "transform": [{"filter": "datum.panel === 'I'"}],
      "encoding": {
        "x": {"datum": 0, "type": "quantitative", "scale": {"domain": [0, 1]}, "axis": null},
        "y": {"field": "line", "type": "ordinal", "scale": {"type": "point", "range": [13, 70]}, "axis": null},
        "text": {"field": "label"}
      },
      "layer": [
        {"transform": [{"filter": "!datum.bold"}], "mark": {"type": "text", "align": "left", "style": "stat"}},
        {"transform": [{"filter": "datum.bold"}], "mark": {"type": "text", "align": "left", "style": "stat", "fontWeight": "bold"}}
      ]
    },
    {
      "title": "J", "width": 136, "height": 88,
      "data": {"name": "bars"}, "transform": [{"filter": "datum.panel === 'J'"}],
      "encoding": {
        "x": {"field": "N", "type": "nominal", "sort": ["N0", "LN", "HN"], "title": null, "scale": {"paddingInner": 0.31, "paddingOuter": 0.155}},
        "xOffset": {"field": "treatment", "type": "nominal", "sort": ["NM/E−", "NM/E+", "RI/E−", "RI/E+"], "scale": {"paddingInner": 0.15}}
      },
      "layer": [
        {"mark": "bar", "encoding": {
          "y": {"field": "mean", "type": "quantitative", "title": "Chlorophyll b (mg/g)", "scale": {"domain": [0, 3]}, "axis": {"values": [0, 0.5, 1, 1.5, 2, 2.5, 3], "titleX": -24}},
          "color": {"field": "treatment", "type": "nominal", "scale": {"domain": ["NM/E−", "NM/E+", "RI/E−", "RI/E+"], "range": ["#ED7D31", "#FFC000", "#70AD47", "#9E480E"]}, "legend": {"title": null}}}},
        {"mark": "rule", "encoding": {"y": {"field": "lo", "type": "quantitative", "title": "Chlorophyll b (mg/g)", "axis": {"values": [0, 0.5, 1, 1.5, 2, 2.5, 3], "titleX": -24}}, "y2": {"field": "hi"}}},
        {"mark": {"type": "tick", "orient": "horizontal", "size": 3}, "encoding": {"y": {"field": "lo", "type": "quantitative", "title": "Chlorophyll b (mg/g)", "axis": {"values": [0, 0.5, 1, 1.5, 2, 2.5, 3], "titleX": -24}}}},
        {"mark": {"type": "tick", "orient": "horizontal", "size": 3}, "encoding": {"y": {"field": "hi", "type": "quantitative", "title": "Chlorophyll b (mg/g)", "axis": {"values": [0, 0.5, 1, 1.5, 2, 2.5, 3], "titleX": -24}}}},
        {"mark": {"type": "text", "style": "sigLabel"}, "encoding": {"y": {"field": "hi", "type": "quantitative", "title": "Chlorophyll b (mg/g)", "axis": {"values": [0, 0.5, 1, 1.5, 2, 2.5, 3], "titleX": -24}}, "text": {"field": "sig"}}}
      ]
    },
    {
      "width": 96, "height": 88,
      "data": {"name": "stats"}, "transform": [{"filter": "datum.panel === 'J'"}],
      "encoding": {
        "x": {"datum": 0, "type": "quantitative", "scale": {"domain": [0, 1]}, "axis": null},
        "y": {"field": "line", "type": "ordinal", "scale": {"type": "point", "range": [13, 70]}, "axis": null},
        "text": {"field": "label"}
      },
      "layer": [
        {"transform": [{"filter": "!datum.bold"}], "mark": {"type": "text", "align": "left", "style": "stat"}},
        {"transform": [{"filter": "datum.bold"}], "mark": {"type": "text", "align": "left", "style": "stat", "fontWeight": "bold"}}
      ]
    }
  ],
  "config": {
    "font": "Liberation Sans, 'Noto Sans CJK SC', sans-serif",
    "view": {"stroke": null},
    "title": {"anchor": "start", "frame": "group", "dx": -27, "offset": 4, "fontSize": 9, "fontWeight": "normal", "color": "#222222"},
    "axis": {"grid": false, "labelFontSize": 7, "labelColor": "#595959", "titleFontSize": 7.5, "titleFontWeight": "normal", "titleColor": "#404040", "domainColor": "#a6a6a6", "tickColor": "#a6a6a6", "domainWidth": 0.8, "tickWidth": 0.8, "labelOverlap": false},
    "axisX": {"ticks": false, "labelPadding": 3, "labelAngle": 0, "domainColor": "#bfbfbf"},
    "axisY": {"tickSize": 3, "labelPadding": 2, "titleBaseline": "middle", "labelExpr": "format(datum.value, '~g')"},
    "rule": {"color": "#404040", "strokeWidth": 0.6},
    "tick": {"color": "#404040", "thickness": 0.6},
    "text": {"fontSize": 7, "color": "#404040"},
    "style": {
      "stat": {"fontSize": 6.3, "color": "#404040", "baseline": "middle"},
      "sigLabel": {"fontSize": 7, "color": "#404040", "baseline": "alphabetic", "dy": -4}
    },
    "legend": {"orient": "none", "legendX": 523, "legendY": 242, "direction": "horizontal", "symbolType": "square", "symbolSize": 20, "labelFontSize": 6.3, "labelColor": "#404040", "labelOffset": 2, "columnPadding": 6.5}
  }
}
